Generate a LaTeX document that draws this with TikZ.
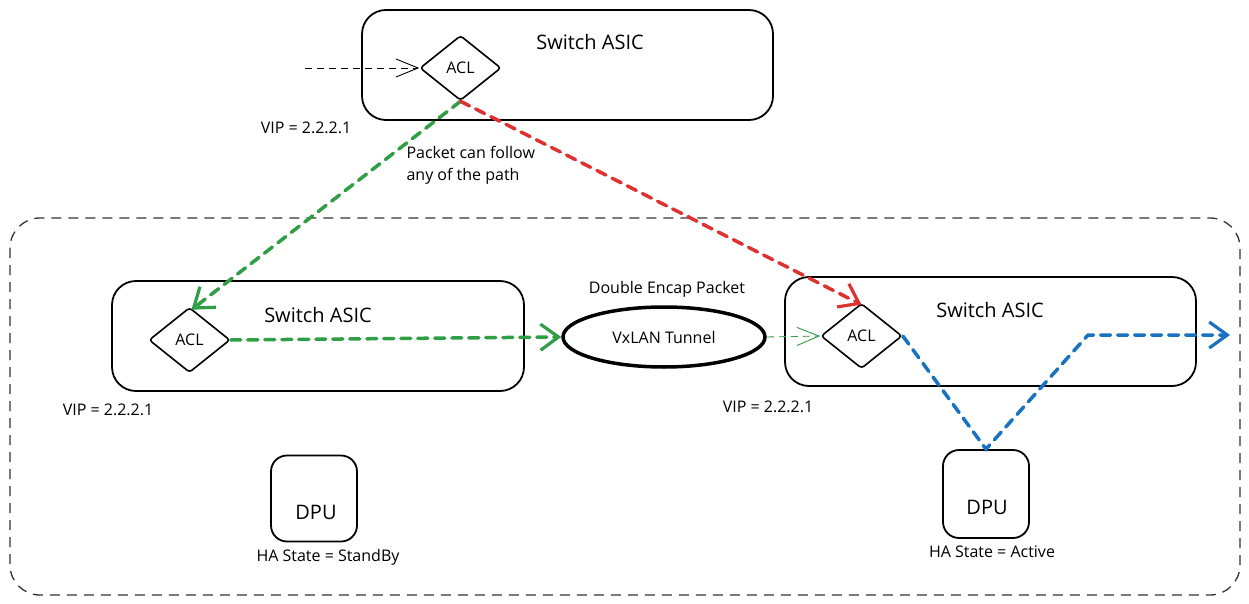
\documentclass[tikz,border=0pt]{standalone}
\usepackage{fontspec}
\setmainfont{Open Sans}
\usetikzlibrary{shapes.geometric,arrows.meta}
\definecolor{cgreen}{HTML}{2F9E44}
\definecolor{cred}{HTML}{E03131}
\definecolor{cblue}{HTML}{1971C2}
\begin{document}
\begin{tikzpicture}[x=1pt,y=-1pt,
  asicbox/.style={draw, line width=1.8pt, rounded corners=24pt, inner sep=0pt},
  dpubox/.style={draw, line width=1.8pt, rounded corners=16pt, minimum width=86pt, minimum height=86pt, inner sep=0pt},
  aclnode/.style={draw, diamond, line width=1.6pt, rounded corners=3pt, minimum width=81pt, minimum height=65pt, inner sep=0pt, font=\fontsize{16}{18}\selectfont},
  title/.style={font=\fontsize{20}{23}\selectfont},
  lbl/.style={font=\fontsize{16}{22}\selectfont},
  thickdash/.style={line width=3.5pt, dash pattern=on 10pt off 7pt, line cap=round},
  thickarrow/.style={-{Straight Barb[length=18pt,width=26pt,line width=3.2pt]}},
  thinarrow/.style={dashed, line width=0.9pt, dash pattern=on 7pt off 5pt, -{Straight Barb[length=22pt,width=18pt,line width=0.9pt]}}
]
\useasboundingbox (0,0) rectangle (1249,604);
\fill[white] (0,0) rectangle (1249,604);

% outer dashed region
\draw[line width=1.3pt, dash pattern=on 10pt off 7pt, rounded corners=30pt, color=black!80] (10,218) rectangle (1240,595);

% top switch
\node[asicbox, minimum width=411pt, minimum height=110pt] (swT) at (567.5,65) {};
\node[title] (swTt) at (590,42) {Switch ASIC};
\node[aclnode] (aclT) at (460.5,68) {ACL};
\coordinate (inT) at (305,68);
\draw[thinarrow, black] (inT) -- (aclT.west);
\node[lbl] (vipT) at (306,128) {VIP = 2.2.2.1};
\node[lbl, align=left, anchor=north west] (note) at (403,143) {Packet can follow\\any of the path};

% left switch
\node[asicbox, minimum width=412pt, minimum height=110pt] (swL) at (318,336) {};
\node[title] (swLt) at (318,315) {Switch ASIC};
\node[aclnode] (aclL) at (189.5,340) {ACL};
\node[lbl] (vipL) at (108,410) {VIP = 2.2.2.1};

% tunnel
\node[draw, ellipse, line width=3.5pt, minimum width=202pt, minimum height=60pt, inner sep=0pt, font=\fontsize{16}{18}\selectfont] (tun) at (664,337) {VxLAN Tunnel};
\node[lbl] (dbl) at (667,289) {Double Encap Packet};

% right switch
\node[asicbox, minimum width=411pt, minimum height=109pt] (swR) at (990.5,331.5) {};
\node[title] (swRt) at (990,310) {Switch ASIC};
\node[aclnode] (aclR) at (861.5,336) {ACL};
\node[lbl] (vipR) at (768,407) {VIP = 2.2.2.1};

% DPUs
\node[dpubox] (dpuL) at (314,498.5) {};
\node[title] at (316,512) {DPU};
\node[lbl] (haL) at (328,557) {HA State = StandBy};
\node[dpubox, minimum height=88pt] (dpuR) at (986,494) {};
\node[title] at (987,507) {DPU};
\node[lbl] (haR) at (992,552) {HA State = Active};

% arrows
\draw[thickdash, cgreen, thickarrow] (aclT.south) -- ([xshift=2pt,yshift=-3pt]aclL.north);
\draw[thickdash, cred, thickarrow] (aclT.south) -- ([yshift=-2pt]aclR.north);
\draw[thickdash, cgreen, thickarrow] (aclL.east) -- (tun.west);
\draw[thinarrow, cgreen] (tun.east) -- (aclR.west);
\coordinate (bturn) at (1088,335);
\coordinate (bend) at (1230,335);
\draw[thickdash, cblue, thickarrow] (aclR.east) -- (dpuR.north) -- (bturn) -- (bend);
\end{tikzpicture}
\end{document}
